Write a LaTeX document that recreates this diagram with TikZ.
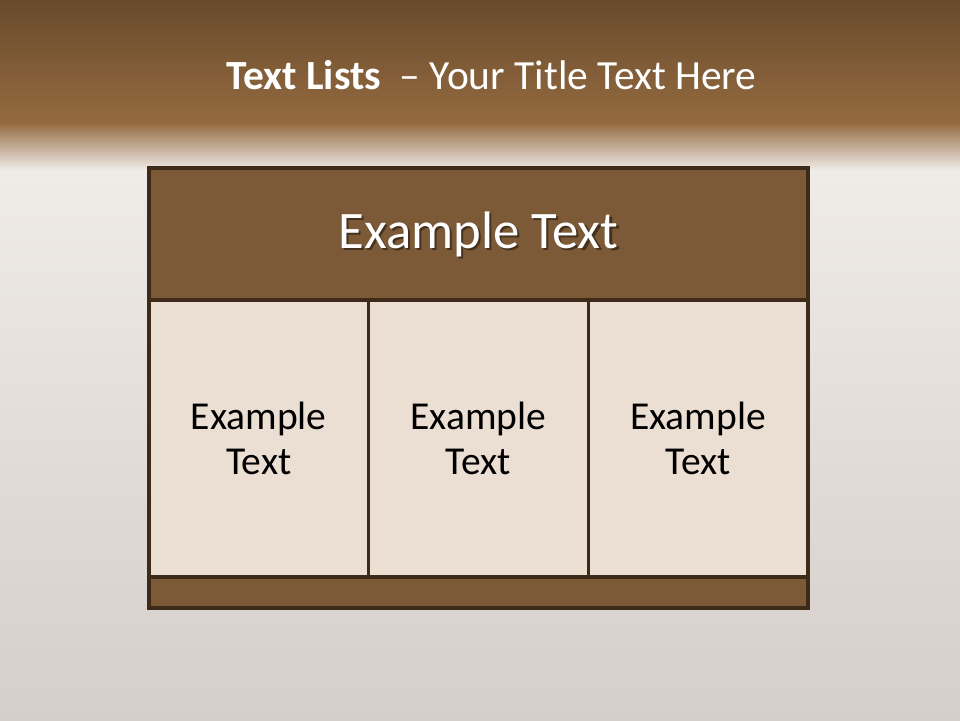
\documentclass[tikz,border=0pt]{standalone}
\usepackage{fontspec}
\setmainfont{Carlito}
\usepackage{xcolor}
\usetikzlibrary{positioning}

\definecolor{bandtop}{HTML}{684B2C}
\definecolor{bandlow}{HTML}{946A40}
\definecolor{haze}{HTML}{EFEBE7}
\definecolor{floorgray}{HTML}{D5CECA}
\definecolor{headbrown}{HTML}{7C5A37}
\definecolor{edgebrown}{HTML}{3E2A18}
\definecolor{cellbeige}{HTML}{EBDED2}

\begin{document}
\begin{tikzpicture}[
    header/.style={draw=edgebrown, line width=1.9pt, fill=headbrown, outer sep=0pt, minimum width=13.18cm, minimum height=2.64cm},
    cell/.style={draw=edgebrown, line width=1.9pt, fill=cellbeige, outer sep=0pt, minimum width=4.393cm, minimum height=5.54cm, align=center, font=\fontsize{22.5}{25.5}\selectfont},
    footer/.style={draw=edgebrown, line width=1.9pt, fill=headbrown, outer sep=0pt, minimum width=13.18cm, minimum height=0.62cm},
    title/.style={text=white, font=\fontsize{23.6}{26}\selectfont},
    headtext/.style={font=\fontsize{30}{32}\selectfont}
]
\useasboundingbox (0,0) rectangle (19.2,-14.4);

% Background: brown band fading into a light grey floor
\shade[top color=bandtop, bottom color=bandlow] (0,0) rectangle (19.2,-2.45);
\shade[top color=bandlow, middle color=bandlow!45!haze, bottom color=haze] (0,-2.45) rectangle (19.2,-3.4);
\shade[top color=haze, middle color=floorgray!75!haze, bottom color=floorgray] (0,-3.4) rectangle (19.2,-14.4);

% Title
\node[title] (heading) at (9.83,-1.5) {\textbf{Text Lists}\ \ – Your Title Text Here};

% Table
\node[header] (top) at (9.57,-4.68) {};
\node[headtext, text=black, opacity=0.45] (topshadow) at ([xshift=0.05cm, yshift=-0.05cm]top.center) {Example Text};
\node[headtext, text=white] (toptext) at (top.center) {Example Text};

\node[cell, anchor=north west] (colA) at (top.south west) {Example\\Text};
\node[cell, right=0pt of colA] (colB) {Example\\Text};
\node[cell, right=0pt of colB] (colC) {Example\\Text};

\node[footer, anchor=north west] (bottom) at (colA.south west) {};

\end{tikzpicture}
\end{document}
